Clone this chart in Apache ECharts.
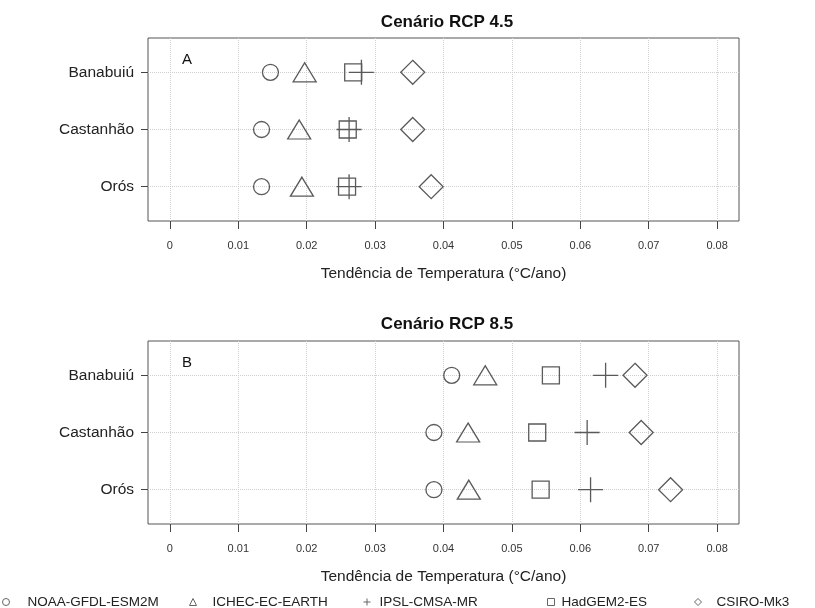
<!DOCTYPE html>
<html lang="pt">
<head>
    <meta charset="UTF-8">
    <title>Tendência de Temperatura</title>
    <script src="https://cdn.jsdelivr.net/npm/echarts@6/dist/echarts.min.js"></script>
</head>
<body style="margin:0;background:#fff;">
<div id="main" style="width:815px;height:608px;"></div>
<script type="text/javascript">
    // reservatórios (de cima para baixo)
    var rows = ['Banabuiú', 'Castanhão', 'Orós'];
    var rowPos = [1, 2, 3];

    var models = ['NOAA-GFDL-ESM2M', 'ICHEC-EC-EARTH', 'IPSL-CMSA-MR', 'HadGEM2-ES', 'CSIRO-Mk3'];

    // tendência (°C/ano) por modelo, na ordem de rows
    var rcp45_noaa   = [0.0147, 0.0134, 0.0134];
    var rcp45_ichec  = [0.0197, 0.0189, 0.0193];
    var rcp45_ipsl   = [0.0280, 0.0262, 0.0262];
    var rcp45_hadgem = [0.0268, 0.0260, 0.0259];
    var rcp45_csiro  = [0.0355, 0.0355, 0.0382];

    var rcp85_noaa   = [0.0412, 0.0386, 0.0386];
    var rcp85_ichec  = [0.0461, 0.0436, 0.0437];
    var rcp85_ipsl   = [0.0637, 0.0610, 0.0615];
    var rcp85_hadgem = [0.0557, 0.0537, 0.0542];
    var rcp85_csiro  = [0.0680, 0.0689, 0.0732];

    var xTicks = [0, 0.01, 0.02, 0.03, 0.04, 0.05, 0.06, 0.07, 0.08];
    var xTickLabels = ['0', '0.01', '0.02', '0.03', '0.04', '0.05', '0.06', '0.07', '0.08'];
    var xGridLines = [0, 0.005, 0.01, 0.015, 0.02, 0.025, 0.03, 0.035, 0.04,
        0.045, 0.05, 0.055, 0.06, 0.065, 0.07, 0.075, 0.08];

    var plusPath = 'path://M0,12 L24,12 M12,0 L12,24';
    var symbols = ['circle', 'triangle', plusPath, 'rect', 'diamond'];
    var sizes = [16, [23, 19], 25, 17, 24];

    var panels = [
        [rcp45_noaa, rcp45_ichec, rcp45_ipsl, rcp45_hadgem, rcp45_csiro],
        [rcp85_noaa, rcp85_ichec, rcp85_ipsl, rcp85_hadgem, rcp85_csiro]
    ];

    var font = '"Liberation Sans", Arial, sans-serif';
    var stroke = '#5a5a5a';

    function pairs(vals) {
        return vals.map(function (v, i) { return [v, rowPos[i]]; });
    }

    var gridMarks = xGridLines.map(function (v) { return { xAxis: v }; })
        .concat(rowPos.map(function (r) { return { yAxis: r }; }));

    var series = [];
    panels.forEach(function (panel, p) {
        panel.forEach(function (vals, m) {
            var s = {
                name: models[m],
                type: 'scatter',
                xAxisIndex: p,
                yAxisIndex: p,
                symbol: symbols[m],
                symbolSize: sizes[m],
                z: 10,
                itemStyle: { color: 'rgba(0,0,0,0)', borderColor: stroke, borderWidth: 1.3, opacity: 1 },
                data: pairs(vals)
            };
            if (m === 0) {
                s.markLine = {
                    silent: true,
                    symbol: ['none', 'none'],
                    label: { show: false },
                    z: 1,
                    lineStyle: { type: 'dotted', color: '#cfcfcf', width: 1 },
                    data: gridMarks
                };
            }
            series.push(s);
        });
    });

    function xAxisFor(idx) {
        return {
            type: 'value',
            gridIndex: idx,
            min: -0.0032,
            max: 0.0832,
            axisLine: { show: false, onZero: false },
            axisTick: { customValues: xTicks, length: 8, lineStyle: { color: '#444' } },
            axisLabel: {
                customValues: xTicks,
                margin: 19,
                fontSize: 11,
                color: '#333',
                fontFamily: font,
                formatter: function (v) {
                    var i = xTicks.indexOf(v);
                    return i >= 0 ? xTickLabels[i] : '';
                }
            },
            splitLine: { show: false },
            name: 'Tendência de Temperatura (°C/ano)',
            nameLocation: 'middle',
            nameGap: 45,
            nameTextStyle: { fontSize: 15.5, color: '#222', fontFamily: font }
        };
    }

    function yAxisFor(idx) {
        return {
            type: 'value',
            gridIndex: idx,
            min: 0.4,
            max: 3.6,
            inverse: true,
            axisLine: { show: false, onZero: false },
            axisTick: { customValues: rowPos, length: 7, lineStyle: { color: '#444' } },
            axisLabel: {
                customValues: rowPos,
                margin: 14,
                fontSize: 15.5,
                color: '#222',
                fontFamily: font,
                formatter: function (v) { return rows[rowPos.indexOf(v)] || ''; }
            },
            splitLine: { show: false }
        };
    }

    // legenda: uma por modelo, para reproduzir o espaçamento irregular
    var legendLeft = [2, 189, 363, 547, 694];
    var legendPad = [13, 11, 4, 2, 10];
    var legends = models.map(function (name, i) {
        return {
            data: [name],
            left: legendLeft[i],
            top: 595,
            itemWidth: 7,
            itemHeight: 7,
            padding: 0,
            selectedMode: false,
            itemStyle: { color: 'rgba(0,0,0,0)', borderColor: '#666', borderWidth: 1 },
            textStyle: { fontSize: 13.5, color: '#222', fontFamily: font, padding: [0, 0, 0, legendPad[i]] }
        };
    });

    var myChart = echarts.init(document.getElementById('main'), null, { renderer: 'canvas' });

    var option = {
        animation: false,
        backgroundColor: '#fff',
        title: [
            { text: 'Cenário RCP 4.5', left: 447, top: 14, padding: 0, textAlign: 'center',
                textStyle: { fontSize: 17, fontWeight: 'bold', color: '#111', fontFamily: font } },
            { text: 'Cenário RCP 8.5', left: 447, top: 316, padding: 0, textAlign: 'center',
                textStyle: { fontSize: 17, fontWeight: 'bold', color: '#111', fontFamily: font } },
            { text: 'A', left: 182, top: 52, padding: 0,
                textStyle: { fontSize: 15, fontWeight: 'normal', color: '#111', fontFamily: font } },
            { text: 'B', left: 182, top: 355, padding: 0,
                textStyle: { fontSize: 15, fontWeight: 'normal', color: '#111', fontFamily: font } }
        ],
        legend: legends,
        grid: [
            { left: 148, top: 38, width: 591, height: 183, show: true, borderColor: '#555', borderWidth: 1 },
            { left: 148, top: 341, width: 591, height: 183, show: true, borderColor: '#555', borderWidth: 1 }
        ],
        xAxis: [xAxisFor(0), xAxisFor(1)],
        yAxis: [yAxisFor(0), yAxisFor(1)],
        series: series
    };

    myChart.setOption(option);
</script>
</body>
</html>
